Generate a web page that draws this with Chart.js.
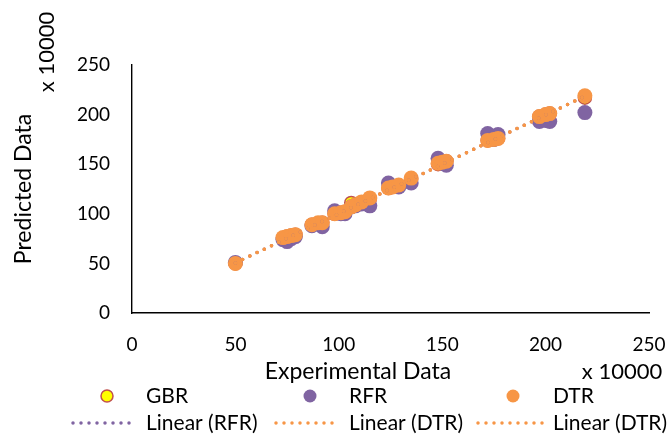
<!DOCTYPE html>
<html><head><meta charset="utf-8">
<script src="https://cdn.jsdelivr.net/npm/chart.js@4/dist/chart.umd.min.js"></script>
<style>html,body{margin:0;padding:0;background:#fff;}#wrap{position:relative;width:667px;height:435px;}</style>
</head><body><div id="wrap"><canvas id="c" width="667" height="435"></canvas></div>
<script>
// ---- data (values in units of 10000) ----
const experimental = [50, 73, 75, 77, 79, 87, 90, 92, 98, 101, 103, 106, 108, 111, 115, 124, 126, 129, 135, 148, 150, 152, 172, 175, 177, 197, 200, 202, 219];
const predGBR      = [50, 75, 77, 78, 79, 89, 90, 91, 100, 101, 102, 111, 109, 111, 115, 126, 127, 128, 135, 150, 152, 153, 174, 175, 176, 198, 200, 201, 217];
const predRFR      = [51, 74, 72, 75, 77, 88, 90, 87, 103, 100, 100, 107, 108, 110, 108, 131, 128, 127, 131, 156, 151, 149, 181, 175, 180, 193, 194, 193, 202];
const predDTR      = [50, 76, 77, 78, 79, 89, 91, 91, 100, 101, 102, 107, 109, 112, 116, 126, 127, 129, 136, 151, 152, 153, 174, 175, 176, 198, 200, 201, 219];
const trendX       = [50, 219];
const trendRFR     = [50.5, 218.5];
const trendDTR     = [50.5, 218.5];
const trendDTR2    = [50.5, 218.5];
const xTicks = [0, 50, 100, 150, 200, 250];
const yTicks = [0, 50, 100, 150, 200, 250];
const seriesNames = ['GBR', 'RFR', 'DTR'];
const trendNames = ['Linear (RFR)', 'Linear (DTR)', 'Linear (DTR)'];
const xTitle = 'Experimental Data';
const yTitle = 'Predicted Data';
const unitLabel = 'x 10000';

const FONT = 'Lato';
const ORANGE = '#F79646', PURPLE = '#8064A2', YELLOW = '#FFFF00', RED = '#C0504D';

const pts = (xs, ys) => xs.map((x, i) => ({x: x, y: ys[i]}));

const datasets = [
  {label: seriesNames[0], data: pts(experimental, predGBR), backgroundColor: YELLOW, borderColor: RED, borderWidth: 1.5, pointRadius: 6.5, order: 6, showLine: false},
  {label: seriesNames[1], data: pts(experimental, predRFR), backgroundColor: PURPLE, borderColor: PURPLE, borderWidth: 0, pointRadius: 7.5, order: 5, showLine: false},
  {label: seriesNames[2], data: pts(experimental, predDTR), backgroundColor: ORANGE, borderColor: ORANGE, borderWidth: 0, pointRadius: 7.5, order: 4, showLine: false},
  {label: trendNames[0], data: pts(trendX, trendRFR), showLine: true, borderColor: PURPLE, borderWidth: 3.5, borderDash: [0, 8], borderCapStyle: 'round', pointRadius: 0, order: 3},
  {label: trendNames[1], data: pts(trendX, trendDTR), showLine: true, borderColor: ORANGE, borderWidth: 3.5, borderDash: [0, 8], borderCapStyle: 'round', pointRadius: 0, order: 2},
  {label: trendNames[2], data: pts(trendX, trendDTR2), showLine: true, borderColor: ORANGE, borderWidth: 3.5, borderDash: [0, 8], borderCapStyle: 'round', pointRadius: 0, order: 1}
];

const extras = {
  id: 'extras',
  afterDraw(chart) {
    const ctx = chart.ctx;
    ctx.save();
    ctx.fillStyle = '#000';
    ctx.textBaseline = 'middle';
    // x-axis title and unit
    ctx.textAlign = 'center';
    ctx.font = '23px ' + FONT;
    ctx.fillText(xTitle, 358, 372);
    ctx.font = '22px ' + FONT;
    ctx.fillText(unitLabel, 622, 372);
    // y unit (rotated)
    ctx.save();
    ctx.translate(47, 52);
    ctx.rotate(-Math.PI / 2);
    ctx.fillText(unitLabel, 0, 0);
    ctx.restore();
    // legend
    ctx.font = '21px ' + FONT;
    const mx = [107, 310, 513], tx = [146, 349, 553];
    const lx = [[73, 137], [276, 340], [478, 543]];
    const ds = chart.data.datasets;
    ctx.textAlign = 'left';
    for (let i = 0; i < 3; i++) {
      const d = ds[i];
      ctx.beginPath();
      ctx.arc(mx[i], 396, i === 0 ? 6 : 6.5, 0, Math.PI * 2);
      ctx.fillStyle = d.backgroundColor;
      ctx.fill();
      if (i === 0) { ctx.lineWidth = 1.5; ctx.strokeStyle = d.borderColor; ctx.stroke(); }
      ctx.fillStyle = '#000';
      ctx.fillText(d.label, tx[i], 396);
      const t = ds[i + 3];
      ctx.save();
      ctx.beginPath();
      ctx.setLineDash([0, 8]);
      ctx.lineCap = 'round';
      ctx.lineWidth = 3.5;
      ctx.strokeStyle = t.borderColor;
      ctx.moveTo(lx[i][0], 423);
      ctx.lineTo(lx[i][1], 423);
      ctx.stroke();
      ctx.restore();
      ctx.fillStyle = '#000';
      ctx.fillText(t.label, tx[i], 423);
    }
    ctx.restore();
  }
};

new Chart(document.getElementById('c'), {
  type: 'scatter',
  data: {datasets: datasets},
  options: {
    responsive: false,
    animation: false,
    devicePixelRatio: 1,
    layout: {autoPadding: false, padding: {left: 0, right: 18, top: 65, bottom: 47}},
    plugins: {legend: {display: false}, tooltip: {enabled: false}},
    scales: {
      x: {
        type: 'linear', min: 0, max: 250,
        afterBuildTicks: s => { s.ticks = xTicks.map(v => ({value: v})); },
        afterFit: s => { s.height = 75; s.paddingLeft = 0; s.paddingRight = 0; },
        ticks: {font: {family: FONT, size: 19}, color: '#000', padding: 20, maxRotation: 0},
        grid: {display: true, drawOnChartArea: false, drawTicks: false},
        border: {display: true, color: '#000', width: 1.4}
      },
      y: {
        type: 'linear', min: 0, max: 250,
        afterBuildTicks: s => { s.ticks = yTicks.map(v => ({value: v})); },
        afterFit: s => { s.width = 132; s.paddingTop = 0; s.paddingBottom = 0; },
        ticks: {font: {family: FONT, size: 19}, color: '#000', padding: 22},
        grid: {display: true, drawOnChartArea: false, drawTicks: false},
        border: {display: true, color: '#000', width: 1.4},
        title: {display: true, text: yTitle, font: {family: FONT, size: 23}, color: '#000', padding: {top: 10, bottom: 0}}
      }
    }
  },
  plugins: [extras]
});
</script></body></html>
